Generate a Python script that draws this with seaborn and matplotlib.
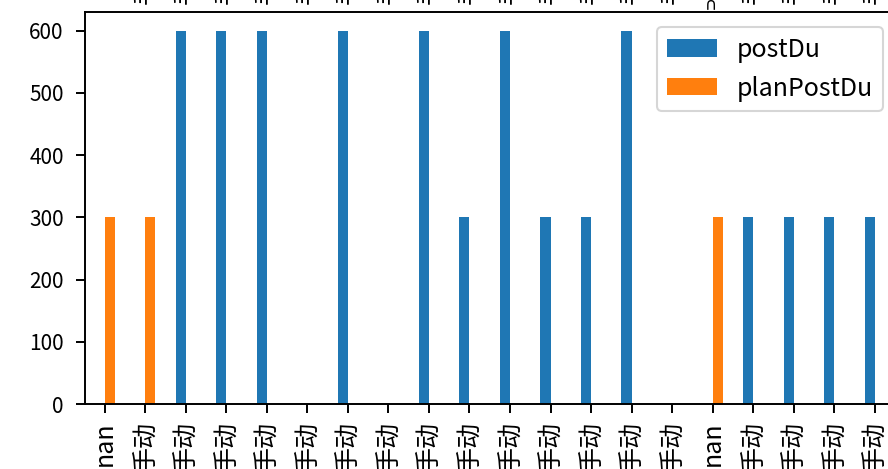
import matplotlib
matplotlib.use("Agg")
import matplotlib.pyplot as plt
import seaborn as sns
import numpy as np
import pandas as pd

plt.rcParams['font.family'] = ['Noto Sans CJK SC', 'DejaVu Sans']
plt.rcParams['axes.unicode_minus'] = False

# ---- data ----
tick_labels = ["nan", "手动", "手动", "手动", "手动", "手动", "手动", "手动", "手动", "手动",
               "手动", "手动", "手动", "手动", "手动", "nan", "手动", "手动", "手动", "手动"]
postDu = [np.nan, np.nan, 600, 600, 600, np.nan, 600, np.nan, 600, 300,
          600, 300, 300, 600, np.nan, np.nan, 300, 300, 300, 300]
planPostDu = [300, 300, np.nan, np.nan, np.nan, np.nan, np.nan, np.nan, np.nan, np.nan,
              np.nan, np.nan, np.nan, np.nan, np.nan, 300, np.nan, np.nan, np.nan, np.nan]
series_names = ["postDu", "planPostDu"]
colors = ["#1f77b4", "#ff7f0e"]
top_fragments = [None, "手动", "手动", "手动", "手动", "手动", "手动", "手动", "手动", "手动",
                 "手动", "手动", "手动", "手动", "手动", "∩", "手动", "手动", "手动", "手动"]

pos = list(range(len(tick_labels)))
df = pd.DataFrame({
    "pos": pos * 2,
    "series": [series_names[0]] * len(pos) + [series_names[1]] * len(pos),
    "value": postDu + planPostDu,
})

W, H = 888, 469
fig = plt.figure(figsize=(W / 100, H / 100), dpi=100)
ax_left, ax_right, ax_top, ax_bottom = 84.5, 895.0, 12.0, 404.0
ax = fig.add_axes([ax_left / W, (H - ax_bottom) / H, (ax_right - ax_left) / W, (ax_bottom - ax_top) / H])

sns.barplot(data=df, x="pos", y="value", hue="series", order=pos, hue_order=series_names,
            palette=colors, saturation=1, width=0.5, errorbar=None, ax=ax)

ax.set_xlim(-0.5, len(pos) - 0.5)
ax.set_ylim(0, 630)
ax.set_yticks([0, 100, 200, 300, 400, 500, 600])
ax.set_xticks(pos)
ax.set_xticklabels(tick_labels, rotation=90, fontsize=18)
ax.tick_params(axis='y', labelsize=15, length=6.5, width=1.4, pad=8.5)
ax.tick_params(axis='x', length=6.5, width=1.4, pad=6)
ax.set_xlabel("")
ax.set_ylabel("")
for sp in ax.spines.values():
    sp.set_linewidth(1.4)

sns.move_legend(ax, "upper right", bbox_to_anchor=(883 / W, 1 - 27 / H),
                bbox_transform=fig.transFigure, title=None, fontsize=18,
                borderaxespad=0, frameon=True)
leg = ax.get_legend()
leg.get_frame().set_linewidth(1.5)

# fragments of tick labels from a panel above (cut off by the top edge)
for i, t in enumerate(top_fragments):
    if t is None:
        continue
    xf = ax.transData.transform((i, 0))[0] / W
    if t == "∩":
        fig.text(xf - 2 / W, 1 - 13 / H, t, ha='center', va='bottom', fontsize=12,
                 family=['DejaVu Sans'])
    else:
        fig.text(xf, 1 - 4 / H, t, rotation=90, ha='center', va='bottom', fontsize=18)

fig.savefig("out.png", dpi=100)
